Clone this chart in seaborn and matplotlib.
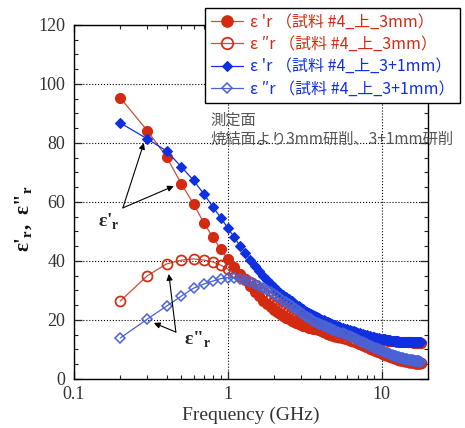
import matplotlib
matplotlib.use("Agg")
import matplotlib.pyplot as plt
import seaborn as sns
import numpy as np
from matplotlib.ticker import MultipleLocator, LogLocator, FixedLocator, FixedFormatter, NullFormatter

# ---------------- data ----------------
freq = [0.2, 0.3, 0.4, 0.5, 0.6, 0.7, 0.8, 0.9, 1.0,
        1.1, 1.2, 1.3, 1.4, 1.5, 1.6, 1.7, 1.8, 1.9, 2.0,
        2.1, 2.2, 2.3, 2.4, 2.5, 2.6, 2.7, 2.8, 2.9, 3.0,
        3.1, 3.2, 3.3, 3.4, 3.5, 3.6, 3.7, 3.8, 3.9, 4.0,
        4.1, 4.2, 4.3, 4.4, 4.5, 4.6, 4.7, 4.8, 4.9, 5.0,
        5.2, 5.4, 5.6, 5.8, 6.0,
        6.2, 6.4, 6.6, 6.8, 7.0,
        7.2, 7.4, 7.6, 7.8, 8.0,
        8.2, 8.4, 8.6, 8.8, 9.0,
        9.2, 9.4, 9.6, 9.8, 10.0,
        10.2, 10.4, 10.6, 10.8, 11.0,
        11.2, 11.4, 11.6, 11.8, 12.0,
        12.2, 12.4, 12.6, 12.8, 13.0,
        13.2, 13.4, 13.6, 13.8, 14.0,
        14.2, 14.4, 14.6, 14.8, 15.0,
        15.2, 15.4, 15.6, 15.8, 16.0,
        16.2, 16.4, 16.6, 16.8, 17.0,
        17.2, 17.4, 17.6, 17.8, 18.0]

eps1_3mm = [95.3, 84.2, 75.3, 66.1, 59.3, 52.9, 48.1, 44.0, 40.7,
            38.0, 35.6, 33.4, 31.4, 29.6, 28.0, 26.6, 25.4, 24.4, 23.5,
            22.7, 22.0, 21.4, 20.8, 20.3, 19.8, 19.4, 19.0, 18.6, 18.3,
            18.0, 17.8, 17.6, 17.4, 17.2, 17.1, 16.9, 16.8, 16.6, 16.5,
            16.4, 16.3, 16.2, 16.1, 16.0, 15.9, 15.8, 15.7, 15.6, 15.6,
            15.5, 15.4, 15.3, 15.2, 15.0,
            14.9, 14.8, 14.7, 14.6, 14.5,
            14.4, 14.3, 14.2, 14.1, 14.0,
            13.9, 13.8, 13.8, 13.7, 13.6,
            13.5, 13.5, 13.4, 13.3, 13.3,
            13.2, 13.2, 13.1, 13.1, 13.0,
            13.0, 12.9, 12.9, 12.9, 12.8,
            12.8, 12.8, 12.7, 12.7, 12.7,
            12.7, 12.6, 12.6, 12.6, 12.6,
            12.5, 12.5, 12.5, 12.5, 12.5,
            12.4, 12.4, 12.4, 12.4, 12.4,
            12.3, 12.3, 12.3, 12.3, 12.3,
            12.2, 12.2, 12.2, 12.2, 12.2]

eps2_3mm = [26.4, 35.0, 39.0, 40.3, 40.7, 40.3, 39.7, 38.6, 37.3,
            36.2, 35.0, 33.9, 32.8, 31.7, 30.6, 29.6, 28.6, 27.7, 26.8,
            26.0, 25.2, 24.5, 23.8, 23.1, 22.5, 21.9, 21.3, 20.7, 20.2,
            19.7, 19.3, 18.9, 18.5, 18.1, 17.8, 17.4, 17.1, 16.8, 16.5,
            16.2, 16.0, 15.8, 15.6, 15.4, 15.2, 15.0, 14.9, 14.7, 14.6,
            14.4, 14.2, 14.0, 13.8, 13.5,
            13.3, 13.0, 12.8, 12.6, 12.3,
            12.0, 11.8, 11.5, 11.3, 11.0,
            10.8, 10.5, 10.3, 10.0, 9.8,
            9.6, 9.4, 9.2, 9.0, 8.8,
            8.6, 8.5, 8.3, 8.2, 8.0,
            7.8, 7.7, 7.5, 7.4, 7.2,
            7.1, 7.0, 6.9, 6.7, 6.6,
            6.5, 6.4, 6.4, 6.3, 6.2,
            6.1, 6.1, 6.0, 6.0, 5.9,
            5.8, 5.8, 5.7, 5.7, 5.6,
            5.6, 5.5, 5.5, 5.5, 5.4,
            5.4, 5.4, 5.3, 5.3, 5.3]

eps1_4mm = [86.8, 81.4, 77.3, 71.9, 67.3, 62.7, 58.4, 54.7, 51.2,
            48.1, 45.2, 42.7, 40.4, 38.4, 36.6, 35.0, 33.6, 32.3, 31.2,
            30.2, 29.3, 28.5, 27.7, 27.0, 26.3, 25.7, 25.1, 24.6, 24.1,
            23.6, 23.2, 22.8, 22.4, 22.0, 21.7, 21.3, 21.0, 20.7, 20.4,
            20.1, 19.9, 19.6, 19.4, 19.2, 19.0, 18.8, 18.6, 18.4, 18.3,
            18.0, 17.7, 17.4, 17.1, 16.8,
            16.6, 16.3, 16.1, 15.9, 15.7,
            15.5, 15.3, 15.1, 15.0, 14.8,
            14.6, 14.5, 14.4, 14.2, 14.1,
            14.0, 13.9, 13.8, 13.7, 13.6,
            13.5, 13.4, 13.4, 13.3, 13.2,
            13.2, 13.1, 13.0, 13.0, 12.9,
            12.9, 12.8, 12.8, 12.8, 12.7,
            12.7, 12.7, 12.7, 12.6, 12.6,
            12.6, 12.6, 12.6, 12.5, 12.5,
            12.5, 12.5, 12.5, 12.5, 12.5,
            12.4, 12.4, 12.4, 12.4, 12.4,
            12.4, 12.4, 12.4, 12.4, 12.4]

eps2_4mm = [13.9, 20.3, 24.7, 28.1, 30.8, 32.2, 33.2, 34.0, 34.4,
            34.3, 34.0, 33.5, 32.9, 32.3, 31.6, 30.9, 30.1, 29.4, 28.7,
            28.0, 27.3, 26.6, 26.0, 25.4, 24.8, 24.2, 23.6, 23.0, 22.5,
            22.0, 21.5, 21.0, 20.6, 20.2, 19.8, 19.4, 19.1, 18.8, 18.6,
            18.3, 18.1, 17.8, 17.6, 17.4, 17.2, 16.9, 16.7, 16.5, 16.3,
            16.0, 15.7, 15.5, 15.2, 14.9,
            14.6, 14.3, 14.0, 13.6, 13.3,
            13.0, 12.7, 12.4, 12.1, 11.8,
            11.6, 11.3, 11.1, 10.8, 10.6,
            10.4, 10.2, 10.0, 9.8, 9.6,
            9.4, 9.2, 9.0, 8.9, 8.7,
            8.5, 8.4, 8.2, 8.1, 7.9,
            7.8, 7.7, 7.6, 7.4, 7.3,
            7.2, 7.1, 7.0, 7.0, 6.9,
            6.8, 6.7, 6.7, 6.6, 6.5,
            6.5, 6.4, 6.4, 6.3, 6.3,
            6.2, 6.2, 6.2, 6.1, 6.1,
            6.0, 6.0, 6.0, 5.9, 5.9]

labels = ["ε 'r （試料 #4_上_3mm）",
          "ε ″r （試料 #4_上_3mm）",
          "ε 'r （試料 #4_上_3+1mm）",
          "ε ″r （試料 #4_上_3+1mm）"]

xtick_vals = [0.1, 1, 10]
xtick_labels = ["0.1", "1", "10"]
ytick_vals = [0, 20, 40, 60, 80, 100, 120]

# ---------------- style ----------------
sns.set_style("ticks")
plt.rcParams["font.family"] = ["Liberation Serif", "Noto Sans CJK JP", "DejaVu Sans"]
plt.rcParams["mathtext.fontset"] = "custom"
plt.rcParams["mathtext.rm"] = "Liberation Serif"
plt.rcParams["mathtext.bf"] = "Liberation Serif:bold"

RED = "#d42a12"
RED_LINE = "#c8503a"
BLUE = "#0f30e0"
BLUE_OPEN = "#4a62d4"

fig = plt.figure(figsize=(4.65, 4.28), dpi=100)
ax = fig.add_axes([0.159, 0.1145, 0.761, 0.8271])

common = dict(ax=ax, estimator=None, sort=False)
sns.lineplot(x=freq, y=eps1_3mm, color=RED_LINE, lw=0.9, marker="o", markersize=7.2,
             markerfacecolor=RED, markeredgecolor=RED, markeredgewidth=0.8, label=labels[0], **common)
sns.lineplot(x=freq, y=eps2_3mm, color=RED_LINE, lw=0.9, marker="o", markersize=7.2,
             markerfacecolor="none", markeredgecolor=RED, markeredgewidth=1.25, label=labels[1], **common)
sns.lineplot(x=freq, y=eps1_4mm, color=BLUE, lw=0.9, marker="D", markersize=4.8,
             markerfacecolor=BLUE, markeredgecolor=BLUE, markeredgewidth=0.8, label=labels[2], **common)
sns.lineplot(x=freq, y=eps2_4mm, color=BLUE_OPEN, lw=0.9, marker="D", markersize=4.8,
             markerfacecolor="none", markeredgecolor=BLUE_OPEN, markeredgewidth=1.1, label=labels[3], **common)

ax.set_xscale("log")
ax.set_xlim(0.1, 20)
ax.set_ylim(0, 120)
ax.xaxis.set_major_locator(FixedLocator(xtick_vals))
ax.xaxis.set_major_formatter(FixedFormatter(xtick_labels))
ax.xaxis.set_minor_locator(LogLocator(base=10, subs=np.arange(2, 10)))
ax.xaxis.set_minor_formatter(NullFormatter())
ax.yaxis.set_major_locator(FixedLocator(ytick_vals))
ax.yaxis.set_minor_locator(MultipleLocator(5))

ax.tick_params(which="both", direction="in", top=True, right=True, labelsize=13, colors="#222222")
ax.tick_params(which="major", length=6, width=0.9)
ax.tick_params(which="minor", length=3, width=0.8)
ax.tick_params(axis="x", which="major", pad=5)
ax.tick_params(axis="y", which="major", pad=6)
for lab in ax.get_xticklabels() + ax.get_yticklabels():
    lab.set_color("#333333")
for s in ax.spines.values():
    s.set_color("black")
    s.set_linewidth(1.0)

ax.grid(True, which="major", ls=":", color="black", lw=0.8)
ax.set_axisbelow(True)

ax.set_xlabel("Frequency (GHz)", fontsize=14, color="#333333", labelpad=3)
ax.set_ylabel("")
fig.text(0.052, 0.49, "ε'$_\\mathbf{r}$,  ε\"$_\\mathbf{r}$", rotation=90, fontsize=15,
         fontweight="bold", ha="center", va="center", color="#111111")

# annotations
arrowprops = dict(arrowstyle="-|>", color="black", lw=0.8, mutation_scale=9, shrinkA=0, shrinkB=0)
ax.text(0.169, 53.2, "ε'$_\\mathbf{r}$", fontsize=14, fontweight="bold", ha="center", va="center")
ax.annotate("", xy=(0.285, 80.0), xytext=(0.208, 58.0), arrowprops=arrowprops)
ax.annotate("", xy=(0.446, 65.4), xytext=(0.208, 58.0), arrowprops=arrowprops)
ax.text(0.64, 13.2, "ε\"$_\\mathbf{r}$", fontsize=14, fontweight="bold", ha="center", va="center")
ax.annotate("", xy=(0.414, 35.6), xytext=(0.46, 15.9), arrowprops=arrowprops)
ax.annotate("", xy=(0.331, 19.0), xytext=(0.46, 15.9), arrowprops=arrowprops)

fig.text(210 / 465, 1 - 120 / 428, "測定面", fontsize=11, color="#555555",
         family=["Noto Sans CJK JP", "DejaVu Sans"], ha="left", va="center")
fig.text(210 / 465, 1 - 139 / 428, "焼結面より3mm研削、3+1mm研削", fontsize=11, color="#555555",
         family=["Noto Sans CJK JP", "DejaVu Sans"], ha="left", va="center")

# legend
handles, labs = ax.get_legend_handles_labels()
if ax.legend_ is not None:
    ax.legend_.remove()
leg = fig.legend(handles, labs, loc="upper left", bbox_to_anchor=(205 / 465, 1 - 8 / 428),
                 bbox_transform=fig.transFigure, frameon=True, fancybox=False, edgecolor="black",
                 framealpha=1, prop={"family": ["Noto Sans CJK JP", "DejaVu Sans"], "size": 11.5},
                 handlelength=2.0, handletextpad=0.45, labelspacing=0.33, borderpad=0.35,
                 borderaxespad=0, markerscale=1.15)
leg.get_frame().set_linewidth(1.0)
txt_colors = [RED, RED, BLUE, BLUE]
for t, c in zip(leg.get_texts(), txt_colors):
    t.set_color(c)

fig.savefig("out.png", dpi=100)
